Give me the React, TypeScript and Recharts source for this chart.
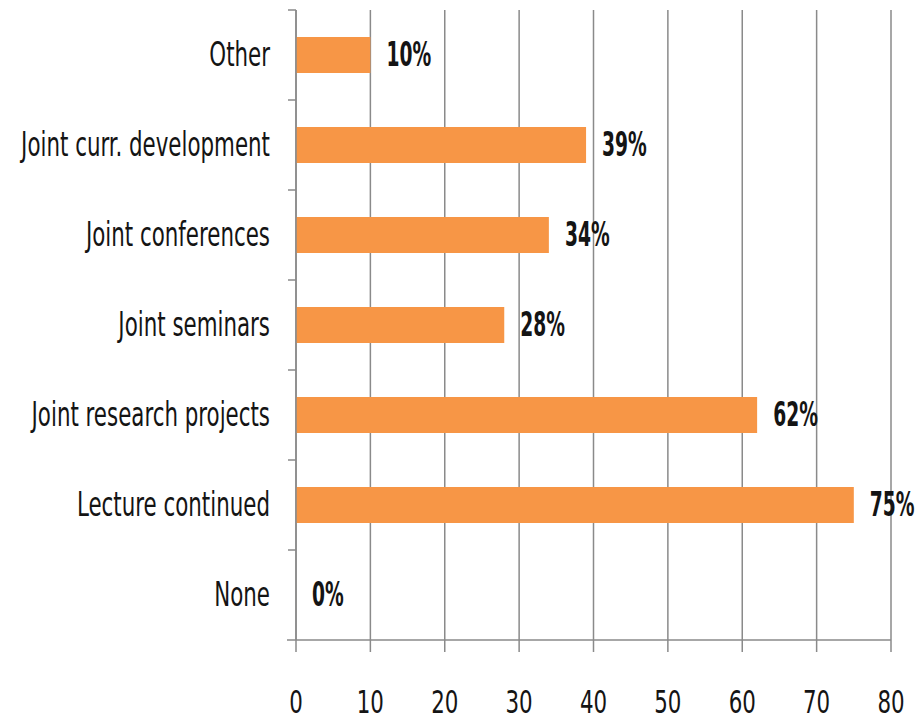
import { BarChart, Bar, XAxis, YAxis, CartesianGrid, LabelList } from "recharts";

const categories = [
  "Other",
  "Joint curr. development",
  "Joint conferences",
  "Joint seminars",
  "Joint research projects",
  "Lecture continued",
  "None",
];
const values = [10, 39, 34, 28, 62, 75, 0];
const xTicks = [0, 10, 20, 30, 40, 50, 60, 70, 80];

const data = categories.map((name, i) => ({ name, value: values[i] }));

// layout
const W = 921;
const H = 720;
const PLOT_LEFT = 296;
const PLOT_TOP = 10;
const PLOT_RIGHT = 891;
const PLOT_BOTTOM = 640;
const BAND = (PLOT_BOTTOM - PLOT_TOP) / categories.length;

const FONT = "'Liberation Sans Narrow', 'DejaVu Sans Condensed', sans-serif";
const GRID = "#8a8a8a";
const TEXT = "#141414";

// condensed look: squeeze glyphs horizontally
function ScaledText({ x, y, anchor, bold, size = 33, children }: any) {
  const sx = (bold ? 0.63 : 0.72) * (33 / size);
  return (
    <text
      transform={`translate(${x},${y}) scale(${sx},1)`}
      x={0}
      y={0}
      textAnchor={anchor}
      dominantBaseline="central"
      fontFamily={FONT}
      fontSize={size}
      fontWeight={bold ? 700 : 400}
      fill={TEXT}
    >
      {children}
    </text>
  );
}

function CategoryTick(props: any) {
  const { y, payload, index } = props;
  const top = y - BAND / 2;
  return (
    <g>
      <line x1={PLOT_LEFT - 8} x2={PLOT_LEFT} y1={top} y2={top} stroke={GRID} strokeWidth={1.5} />
      {index === categories.length - 1 && (
        <line x1={PLOT_LEFT - 9} x2={PLOT_LEFT} y1={top + BAND} y2={top + BAND} stroke={GRID} strokeWidth={1.5} />
      )}
      <ScaledText x={PLOT_LEFT - 26} y={y} anchor="end">
        {payload.value}
      </ScaledText>
    </g>
  );
}

function ValueTick(props: any) {
  const { x, payload } = props;
  return (
    <ScaledText x={x} y={702} anchor="middle" size={32}>
      {payload.value}
    </ScaledText>
  );
}

function BarValue(props: any) {
  const { x, y, width, height, value } = props;
  return (
    <ScaledText x={x + (width || 0) + 16} y={y + height / 2} anchor="start" bold>
      {`${value}%`}
    </ScaledText>
  );
}

export default function App() {
  return (
    <div style={{ position: "absolute", left: 0, top: 0, background: "#fff" }}>
      <BarChart
        width={W}
        height={H}
        data={data}
        layout="vertical"
        margin={{ top: PLOT_TOP, right: W - PLOT_RIGHT, bottom: 0, left: 0 }}
        barCategoryGap={27}
      >
        <CartesianGrid horizontal={false} stroke={GRID} strokeWidth={1.5} />
        <XAxis
          type="number"
          domain={[0, 80]}
          ticks={xTicks}
          interval={0}
          height={H - PLOT_BOTTOM}
          axisLine={{ stroke: GRID, strokeWidth: 1.5 }}
          tickLine={{ stroke: GRID, strokeWidth: 1.5 }}
          tickSize={12}
          tick={<ValueTick />}
        />
        <YAxis
          type="category"
          dataKey="name"
          width={PLOT_LEFT}
          axisLine={{ stroke: GRID, strokeWidth: 1.5 }}
          tickLine={false}
          interval={0}
          tick={<CategoryTick />}
        />
        <Bar dataKey="value" fill="#F79646" minPointSize={0.01} isAnimationActive={false}>
          <LabelList dataKey="value" content={<BarValue />} />
        </Bar>
      </BarChart>
    </div>
  );
}
